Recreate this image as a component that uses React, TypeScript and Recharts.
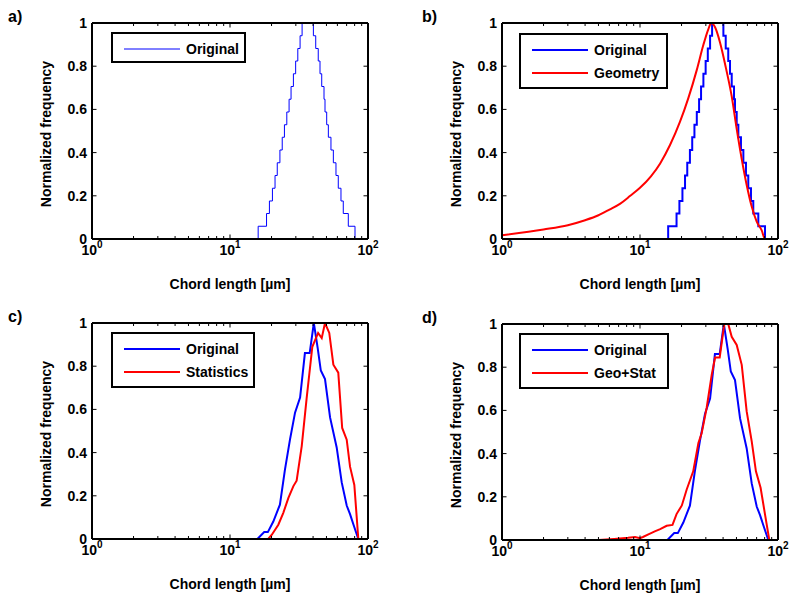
import { LineChart, Line, XAxis, YAxis, Legend } from "recharts";

const FONT = '"Liberation Sans", Arial, Helvetica, sans-serif';
const BLUE = "#0000ff";
const RED = "#ff0000";

const W = 381;
const H = 300;

const X_TICKS = [1, 2, 3, 4, 5, 6, 7, 8, 9, 10, 20, 30, 40, 50, 60, 70, 80, 90, 100];
const X_MAJOR_EXP: Record<number, string> = { 1: "0", 10: "1", 100: "2" };
const Y_TICKS = [0, 0.2, 0.4, 0.6, 0.8, 1];

// original sample as a histogram (stairs: value holds until next edge)
const histEdges = [
  10, 16.0, 18.4, 19.3, 20.3, 21.2, 22.0, 23.0, 23.9, 24.8, 25.8, 26.8, 27.7, 28.8, 29.9, 31.0, 32.2, 33.3,
  40.2, 41.8, 43.6, 44.9, 46.2, 48.0, 48.8, 50.2, 51.6, 53.9, 56.1, 58.6, 60.9, 63.7, 66.2, 72.0, 80.5, 100,
];
const histFreq = [
  0, 0.059, 0.118, 0.176, 0.235, 0.294, 0.353, 0.412, 0.471, 0.529, 0.588, 0.647, 0.706, 0.765, 0.824, 0.882, 0.941, 1,
  0.941, 0.882, 0.824, 0.765, 0.706, 0.647, 0.588, 0.529, 0.471, 0.412, 0.353, 0.294, 0.235, 0.176, 0.118, 0.059, 0, 0,
];

// geometry model
const geoX = [
  1, 2, 3, 4, 5, 6, 7.2, 8.5, 10, 12, 14, 16.5, 19.5, 22.4, 25.8, 28.8, 31.3, 32.8, 35, 38,
  42, 46.2, 50.2, 54.6, 59.3, 64.5, 70.1, 76.2, 80.5, 100,
];
const geoFreq = [
  0.017, 0.044, 0.064, 0.087, 0.11, 0.136, 0.164, 0.2, 0.237, 0.29, 0.35, 0.435, 0.543, 0.652, 0.783, 0.899, 0.972, 1, 0.98, 0.91,
  0.79, 0.66, 0.51, 0.37, 0.25, 0.15, 0.08, 0.04, 0, 0,
];

// original sample, drawn as a line (panels c, d)
const origX = [
  1, 15.8, 17.7, 18.8, 20.6, 23.0, 25.0, 27.2, 29.6, 32.2, 34.9, 37.8, 40.5, 43.2, 45.5, 48.8, 53.1, 59.3, 64.5, 70.1,
  74.1, 78.3, 85.1, 100,
];
const origFreq = [
  0, 0, 0.032, 0.032, 0.081, 0.159, 0.32, 0.46, 0.585, 0.655, 0.861, 0.861, 1, 0.884, 0.78, 0.74, 0.563, 0.424, 0.262, 0.155,
  0.115, 0.068, 0, 0,
];

// statistics model
const statX = [
  1, 18.9, 20.1, 22.4, 24.3, 26.5, 28.8, 30.4, 33.1, 35.9, 39.5, 41.3, 43.5, 46.2, 48.8, 52.4, 56.1, 60.9, 65.0, 70.1,
  74.1, 79.6, 85.1, 100,
];
const statFreq = [
  0, 0, 0.02, 0.066, 0.12, 0.19, 0.245, 0.27, 0.43, 0.65, 0.89, 0.92, 0.954, 0.93, 1, 0.954, 0.807, 0.77, 0.514, 0.46,
  0.335, 0.25, 0, 0,
];

// geometry + statistics model
const geoStatX = [
  1, 5, 6.5, 8.2, 9.2, 10, 10.5, 11.5, 12.8, 14.0, 15.6, 17.2, 18.4, 20.1, 21.8, 24.3, 26.5, 28.0, 30.4, 33.1,
  35.0, 37.8, 40.8, 43.6, 46.2, 50.2, 54.6, 59.3, 64.5, 69.2, 74.8, 80.5, 86.5, 100,
];
const geoStatFreq = [
  0, 0, 0.005, 0.01, 0.014, 0.008, 0.014, 0.026, 0.04, 0.05, 0.066, 0.07, 0.12, 0.16, 0.234, 0.318, 0.449, 0.495, 0.611, 0.765,
  0.845, 0.845, 1, 1, 0.941, 0.903, 0.811, 0.595, 0.457, 0.318, 0.242, 0.119, 0, 0,
];

type Series = {
  name: string;
  color: string;
  xs: number[];
  ys: number[];
  width: number;
  curve: "stepAfter" | "linear" | "monotone";
};

const toPoints = (xs: number[], ys: number[]) => xs.map((x, i) => ({ x, y: ys[i] }));

const textStyle = { fontFamily: FONT, fontWeight: "bold" as const, fontSize: 14, fill: "#000" };

function BottomTick(props: any) {
  const { x, y, payload } = props;
  const exp = X_MAJOR_EXP[payload.value];
  return (
    <g>
      <line x1={x} y1={y} x2={x} y2={y - (exp ? 4.5 : 3)} stroke="#000" />
      {exp && (
        <text x={x} y={y + 16} textAnchor="middle" {...textStyle}>
          10
          <tspan dy={-7} fontSize={10}>
            {exp}
          </tspan>
        </text>
      )}
    </g>
  );
}

function TopTick(props: any) {
  const { x, y, payload } = props;
  const major = !!X_MAJOR_EXP[payload.value];
  return <line x1={x} y1={y} x2={x} y2={y + (major ? 4.5 : 3)} stroke="#000" />;
}

function LeftTick(props: any) {
  const { x, y, payload } = props;
  return (
    <g>
      <line x1={x} y1={y} x2={x + 4.5} y2={y} stroke="#000" />
      <text x={x - 5} y={y} dy="0.36em" textAnchor="end" {...textStyle}>
        {payload.value}
      </text>
    </g>
  );
}

function RightTick(props: any) {
  const { x, y } = props;
  return <line x1={x} y1={y} x2={x - 4.5} y2={y} stroke="#000" />;
}

function LegendBox({ series, width }: { series: Series[]; width: number }) {
  const height = series.length === 1 ? 31 : 56;
  return (
    <div
      style={{
        width,
        height,
        border: "2px solid #000",
        boxSizing: "border-box",
        background: "#fff",
        position: "relative",
        fontFamily: FONT,
        fontWeight: "bold",
        fontSize: 14,
      }}
    >
      {series.map((s, i) => {
        const rowY = 14.5 + 23 * i;
        return (
          <div key={s.name}>
            <svg
              width={56}
              height={6}
              style={{ position: "absolute", left: 11, top: rowY - 3 }}
            >
              <line x1={0} y1={3} x2={56} y2={3} stroke={s.color} strokeWidth={s.width} />
            </svg>
            <div
              style={{
                position: "absolute",
                left: 73,
                top: rowY - 8,
                lineHeight: "16px",
                whiteSpace: "nowrap",
                color: "#000",
              }}
            >
              {s.name}
            </div>
          </div>
        );
      })}
    </div>
  );
}

type PanelProps = {
  letter: string;
  left: number;
  top: number;
  letterLeft: number;
  legendLeft: number;
  legendTop: number;
  legendWidth: number;
  series: Series[];
};

function Panel({ letter, left, top, letterLeft, legendLeft, legendTop, legendWidth, series }: PanelProps) {
  return (
    <div style={{ position: "absolute", left, top, width: W, height: H }}>
      <LineChart width={W} height={H} margin={{ top: 0, right: 0, bottom: 0, left: 0 }}>
        <XAxis
          xAxisId="bottom"
          type="number"
          dataKey="x"
          scale="log"
          domain={[1, 100]}
          allowDataOverflow
          ticks={X_TICKS}
          interval={0}
          height={61}
          tickSize={0}
          tickMargin={0}
          tickLine={false}
          axisLine={{ stroke: "#000", strokeWidth: 2 }}
          tick={(p: any) => <BottomTick {...p} />}
          label={{
            value: "Chord length [µm]",
            position: "insideBottom",
            offset: 11,
            style: textStyle,
          }}
        />
        <XAxis
          xAxisId="top"
          orientation="top"
          type="number"
          dataKey="x"
          scale="log"
          domain={[1, 100]}
          allowDataOverflow
          ticks={X_TICKS}
          interval={0}
          height={23}
          tickSize={0}
          tickMargin={0}
          tickLine={false}
          axisLine={{ stroke: "#000", strokeWidth: 2 }}
          tick={(p: any) => <TopTick {...p} />}
        />
        <YAxis
          yAxisId="left"
          type="number"
          domain={[0, 1]}
          allowDataOverflow
          ticks={Y_TICKS}
          interval={0}
          width={92}
          tickSize={0}
          tickMargin={0}
          tickLine={false}
          axisLine={{ stroke: "#000", strokeWidth: 2 }}
          tick={(p: any) => <LeftTick {...p} />}
          label={{
            value: "Normalized frequency",
            angle: -90,
            position: "insideLeft",
            offset: 46.5,
            dy: 3,
            style: { ...textStyle, textAnchor: "middle" },
          }}
        />
        <YAxis
          yAxisId="right"
          orientation="right"
          type="number"
          domain={[0, 1]}
          allowDataOverflow
          ticks={Y_TICKS}
          interval={0}
          width={13}
          tickSize={0}
          tickMargin={0}
          tickLine={false}
          axisLine={{ stroke: "#000", strokeWidth: 2 }}
          tick={(p: any) => <RightTick {...p} />}
        />
        {series.map((s) => (
          <Line
            key={s.name}
            xAxisId="bottom"
            yAxisId="left"
            data={toPoints(s.xs, s.ys)}
            dataKey="y"
            name={s.name}
            type={s.curve}
            stroke={s.color}
            strokeWidth={s.width}
            dot={false}
            activeDot={false}
            isAnimationActive={false}
          />
        ))}
        <Legend
          layout="vertical"
          align="center"
          verticalAlign="middle"
          wrapperStyle={{ left: legendLeft, top: legendTop, width: legendWidth }}
          content={() => <LegendBox series={series} width={legendWidth} />}
        />
      </LineChart>
      <div
        style={{
          position: "absolute",
          left: letterLeft,
          top: 9,
          fontFamily: FONT,
          fontWeight: "bold",
          fontSize: 16,
          lineHeight: "16px",
          color: "#000",
        }}
      >
        {letter}
      </div>
    </div>
  );
}

export default function App() {
  const histA: Series = { name: "Original", color: BLUE, xs: histEdges, ys: histFreq, width: 1, curve: "stepAfter" };
  const histB: Series = { ...histA, width: 2 };
  const geo: Series = { name: "Geometry", color: RED, xs: geoX, ys: geoFreq, width: 2, curve: "monotone" };
  const orig: Series = { name: "Original", color: BLUE, xs: origX, ys: origFreq, width: 2, curve: "linear" };
  const stat: Series = { name: "Statistics", color: RED, xs: statX, ys: statFreq, width: 2, curve: "linear" };
  const geoStat: Series = { name: "Geo+Stat", color: RED, xs: geoStatX, ys: geoStatFreq, width: 2, curve: "linear" };

  return (
    <div style={{ position: "absolute", left: 0, top: 0, width: 791, height: 597, background: "#fff" }}>
      <Panel letter="a)" left={0} top={0} letterLeft={8} legendLeft={111} legendTop={32} legendWidth={135} series={[histA]} />
      <Panel letter="b)" left={410} top={0} letterLeft={12} legendLeft={109} legendTop={33} legendWidth={149} series={[histB, geo]} />
      <Panel letter="c)" left={0} top={300} letterLeft={8} legendLeft={111} legendTop={32} legendWidth={144} series={[orig, stat]} />
      <Panel letter="d)" left={410} top={301} letterLeft={12} legendLeft={109} legendTop={32} legendWidth={150} series={[orig, geoStat]} />
    </div>
  );
}
